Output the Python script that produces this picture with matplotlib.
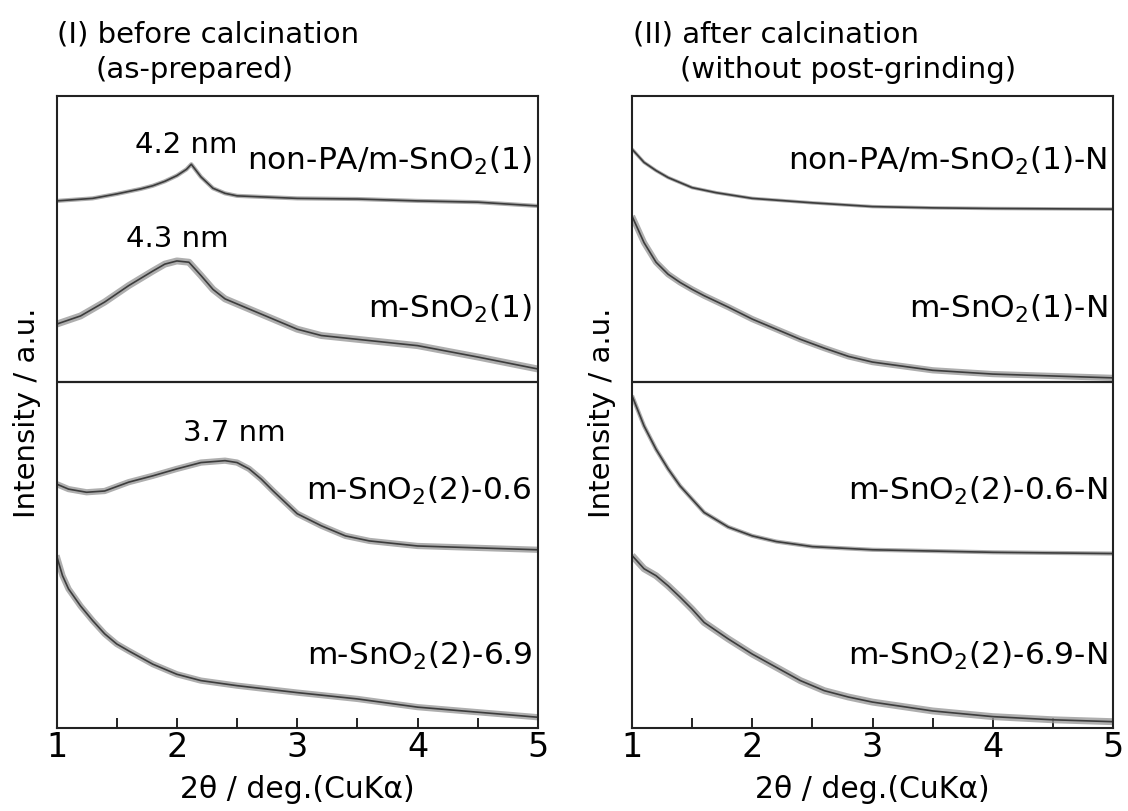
import matplotlib
matplotlib.use("Agg")
import matplotlib.pyplot as plt
from matplotlib.ticker import MultipleLocator

plt.rcParams['font.family'] = ['DejaVu Sans']
plt.rcParams['mathtext.fontset'] = 'dejavusans'
plt.rcParams['mathtext.default'] = 'regular'

# ---------------- data (2theta in deg, intensity in a.u., offset) -------------
# Panel I: before calcination
x_nonpa1 = [1.0, 1.3, 1.5, 1.7, 1.8, 1.9, 2.0, 2.08, 2.12, 2.2, 2.3, 2.4, 2.5, 3.0, 3.5, 4.0, 4.5, 5.0]
y_nonpa1 = [83.4, 83.8, 84.5, 85.3, 85.8, 86.5, 87.4, 88.4, 89.2, 87.2, 85.4, 84.6, 84.2, 83.8, 83.7, 83.4, 83.2, 82.6]

x_m1 = [1.0, 1.2, 1.4, 1.6, 1.8, 1.9, 2.0, 2.1, 2.2, 2.3, 2.4, 2.6, 2.8, 3.0, 3.2, 3.5, 4.0, 4.5, 5.0]
y_m1 = [63.9, 65.2, 67.4, 70.0, 72.3, 73.4, 73.9, 73.7, 71.6, 69.4, 67.9, 66.3, 64.7, 63.1, 62.1, 61.5, 60.5, 58.7, 56.8]

x_m2_06 = [1.0, 1.1, 1.25, 1.4, 1.6, 1.8, 2.0, 2.2, 2.4, 2.5, 2.6, 2.7, 2.8, 2.9, 3.0, 3.2, 3.4, 3.6, 4.0, 4.5, 5.0]
y_m2_06 = [38.6, 37.8, 37.3, 37.5, 38.9, 39.9, 41.0, 42.0, 42.3, 42.0, 41.0, 39.4, 37.5, 35.7, 33.9, 32.0, 30.4, 29.6, 28.8, 28.5, 28.2]

x_m2_69 = [1.0, 1.05, 1.1, 1.2, 1.3, 1.4, 1.5, 1.6, 1.8, 2.0, 2.2, 2.5, 3.0, 3.5, 4.0, 4.5, 5.0]
y_m2_69 = [27.3, 24.1, 22.0, 19.3, 17.0, 14.9, 13.3, 12.2, 10.1, 8.5, 7.5, 6.7, 5.6, 4.6, 3.3, 2.5, 1.7]

# Panel II: after calcination
x_nonpa1_N = [1.0, 1.1, 1.2, 1.3, 1.5, 1.7, 2.0, 2.5, 3.0, 3.5, 4.0, 5.0]
y_nonpa1_N = [91.6, 89.5, 88.2, 87.1, 85.5, 84.7, 83.8, 83.1, 82.5, 82.3, 82.2, 82.1]

x_m1_N = [1.0, 1.05, 1.1, 1.2, 1.3, 1.4, 1.5, 1.6, 1.8, 2.0, 2.2, 2.4, 2.6, 2.8, 3.0, 3.5, 4.0, 4.5, 5.0]
y_m1_N = [81.0, 78.9, 76.8, 73.7, 71.8, 70.5, 69.4, 68.4, 66.6, 64.7, 63.1, 61.5, 60.1, 58.8, 57.9, 56.6, 56.0, 55.7, 55.4]

x_m2_06_N = [1.0, 1.05, 1.1, 1.2, 1.3, 1.4, 1.5, 1.6, 1.8, 2.0, 2.2, 2.5, 3.0, 3.5, 4.0, 5.0]
y_m2_06_N = [52.6, 50.2, 47.8, 44.1, 41.0, 38.3, 36.2, 34.1, 31.8, 30.4, 29.5, 28.7, 28.2, 28.0, 27.8, 27.6]

x_m2_69_N = [1.0, 1.1, 1.2, 1.3, 1.4, 1.5, 1.6, 1.8, 2.0, 2.2, 2.4, 2.6, 2.8, 3.0, 3.5, 4.0, 4.5, 5.0]
y_m2_69_N = [27.3, 25.2, 24.1, 22.5, 20.7, 18.8, 16.7, 14.1, 11.7, 9.6, 7.5, 5.9, 4.9, 4.1, 2.7, 1.8, 1.3, 1.0]

labels_I = ["non-PA/m-SnO$_2$(1)", "m-SnO$_2$(1)", "m-SnO$_2$(2)-0.6", "m-SnO$_2$(2)-6.9"]
labels_II = ["non-PA/m-SnO$_2$(1)-N", "m-SnO$_2$(1)-N", "m-SnO$_2$(2)-0.6-N", "m-SnO$_2$(2)-6.9-N"]
label_baselines = [88.4, 65.0, 36.2, 10.1]

peak_texts = ["4.2 nm", "4.3 nm", "3.7 nm"]
peak_pos_x = [2.08, 2.0, 2.48]
peak_pos_y = [91.1, 76.3, 45.5]

divider = 54.7
xticks = [1, 2, 3, 4, 5]

# ---------------- figure ----------------
W, H = 1128, 812
fig = plt.figure(figsize=(W / 100, H / 100), dpi=100)

ax1 = fig.add_axes([56.5 / W, 1 - 729 / H, 481.5 / W, 632 / H])
ax2 = fig.add_axes([632 / W, 1 - 729 / H, 481 / W, 632 / H])

core_color = '#3c3c3c'
band_color = '#9a9a9a'
band_I = [3.0, 5.0, 4.5, 4.5]
band_II = [2.5, 4.5, 3.0, 5.0]

series_I = [(x_nonpa1, y_nonpa1), (x_m1, y_m1), (x_m2_06, y_m2_06), (x_m2_69, y_m2_69)]
series_II = [(x_nonpa1_N, y_nonpa1_N), (x_m1_N, y_m1_N), (x_m2_06_N, y_m2_06_N), (x_m2_69_N, y_m2_69_N)]

fs = 21
fs_lab = 22.5
for ax, series, bands, labels in [(ax1, series_I, band_I, labels_I), (ax2, series_II, band_II, labels_II)]:
    for (xs, ys), bw in zip(series, bands):
        ax.plot(xs, ys, color=band_color, lw=bw, alpha=0.8, solid_joinstyle='round',
                solid_capstyle='butt')
        ax.plot(xs, ys, color=core_color, lw=1.2, solid_joinstyle='round')
    ax.axhline(divider, color='#222222', lw=1.6)
    ax.set_xlim(1, 5)
    ax.set_ylim(0, 100)
    ax.set_xticks(xticks)
    ax.set_xticklabels([str(t) for t in xticks])
    ax.xaxis.set_minor_locator(MultipleLocator(0.5))
    ax.set_yticks([])
    ax.tick_params(axis='x', which='both', direction='in', length=7.2, width=1.4,
                   labelsize=24, pad=1.5, top=False, color='#222222')
    for sp in ax.spines.values():
        sp.set_linewidth(1.5)
        sp.set_color('#222222')
    for lab, yb in zip(labels, label_baselines):
        ax.text(0.988, yb, lab, transform=ax.get_yaxis_transform(), ha='right',
                va='baseline', fontsize=fs_lab)
    ax.set_xlabel("2θ / deg.(CuKα)", fontsize=21.5)
    ax.xaxis.set_label_coords(0.5, -0.072)

for t, px, py in zip(peak_texts, peak_pos_x, peak_pos_y):
    ax1.text(px, py, t, ha='center', va='baseline', fontsize=fs)

# y labels
fig.text(27 / W, 1 - 413 / H, "Intensity / a.u.", rotation=90, ha='center', va='center', fontsize=fs)
fig.text(602 / W, 1 - 413 / H, "Intensity / a.u.", rotation=90, ha='center', va='center', fontsize=fs)

# titles
fig.text(57 / W, 1 - 42 / H, "(I) before calcination", ha='left', va='baseline', fontsize=fs)
fig.text(95 / W, 1 - 78 / H, "(as-prepared)", ha='left', va='baseline', fontsize=fs)
fig.text(633 / W, 1 - 42 / H, "(II) after calcination", ha='left', va='baseline', fontsize=fs)
fig.text(680 / W, 1 - 78 / H, "(without post-grinding)", ha='left', va='baseline', fontsize=fs)

fig.savefig("out.png", dpi=100, facecolor='white')
